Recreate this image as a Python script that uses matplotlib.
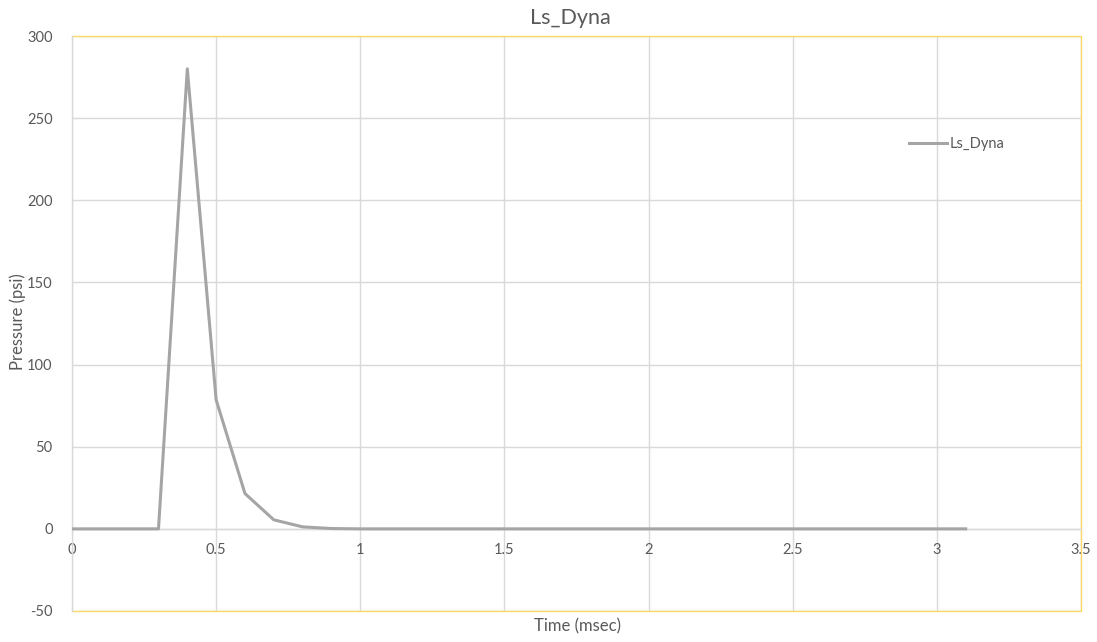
import matplotlib
matplotlib.use("Agg")
import matplotlib.pyplot as plt

time_ms = [0.0, 0.1, 0.2, 0.3, 0.4, 0.5, 0.6, 0.7, 0.8, 0.9, 1.0, 1.1, 1.2, 1.3, 1.4, 1.5,
           1.6, 1.7, 1.8, 1.9, 2.0, 2.1, 2.2, 2.3, 2.4, 2.5, 2.6, 2.7, 2.8, 2.9, 3.0, 3.1]
pressure = [0, 0, 0, 0, 280, 78.5, 21.5, 5.5, 1.2, 0.2, 0, 0, 0, 0, 0, 0,
            0, 0, 0, 0, 0, 0, 0, 0, 0, 0, 0, 0, 0, 0, 0, 0]
x_ticks = [0, 0.5, 1, 1.5, 2, 2.5, 3, 3.5]
x_tick_labels = ["0", "0.5", "1", "1.5", "2", "2.5", "3", "3.5"]
y_ticks = [-50, 0, 50, 100, 150, 200, 250, 300]

plt.rcParams['font.family'] = ['Lato', 'DejaVu Sans']
plt.rcParams['axes.unicode_minus'] = False
txt = '#595959'
grid = '#D9D9D9'
yellow = '#FFD966'

fig = plt.figure(figsize=(10.97, 6.42), dpi=100)
W, H = 1097, 642
ax = fig.add_axes([72 / W, 1 - 611 / H, (1081 - 72) / W, (611 - 36) / H])

ax.plot(time_ms, pressure, color='#A5A5A5', lw=2.2, label='Ls_Dyna', zorder=3,
        solid_joinstyle='round')

ax.set_xlim(0, 3.5)
ax.set_ylim(-50, 300)
ax.set_xticks(x_ticks)
ax.set_xticklabels(x_tick_labels)
ax.set_yticks(y_ticks)
ax.set_yticklabels([str(v) for v in y_ticks])

for s in ['top', 'right']:
    ax.spines[s].set_visible(False)
ax.spines['left'].set_color(grid)
ax.spines['bottom'].set_position(('data', 0))
ax.spines['bottom'].set_color(grid)
ax.spines['bottom'].set_linewidth(1.0)
ax.spines['left'].set_linewidth(1.0)

ax.grid(True, color=grid, lw=1.0, zorder=0)
ax.set_axisbelow(True)
ax.tick_params(length=0, colors=txt, labelsize=10.5)
ax.tick_params(axis='x', pad=10)
ax.tick_params(axis='y', pad=14)

# plot-area border (yellow) on top, right, bottom
ax.plot([0, 3.5, 3.5, 0], [300, 300, -50, -50], color=yellow, lw=1.0,
        clip_on=False, zorder=2)

fig.text(570 / W, 1 - 18 / H, 'Ls_Dyna', color=txt, fontsize=15.5,
         ha='center', va='center')
fig.text(18 / W, 1 - 322 / H, 'Pressure (psi)', rotation=90, color=txt,
         fontsize=12, ha='center', va='center')
fig.text(577 / W, 1 - 626 / H, 'Time (msec)', color=txt,
         fontsize=12, ha='center', va='center')

leg = ax.legend(loc='center left', bbox_to_anchor=(0.817, 0.812), frameon=False,
                fontsize=10.5, handlelength=2.6, handletextpad=0.15, labelcolor=txt)

fig.savefig('out.png', dpi=100)
